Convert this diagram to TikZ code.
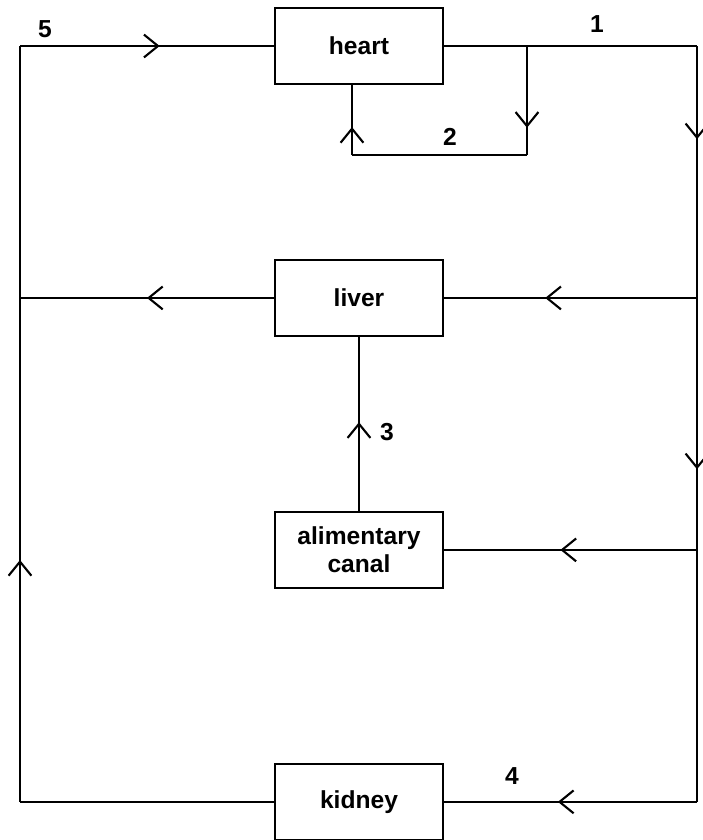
\documentclass[tikz,border=0pt]{standalone}
\usepackage{fontspec}
\setmainfont{Liberation Sans}
\usetikzlibrary{arrows.meta, decorations.markings}
\tikzstyle{organ} = [draw=black, line width=1.2pt, minimum width=3.36cm, minimum height=1.52cm, align=center, font=\fontsize{14}{16}\selectfont\bfseries]
\tikzstyle{num} = [font=\fontsize{14}{16}\selectfont\bfseries]
\tikzstyle{vessel} = [line width=1.2pt]
\tikzset{flow/.style={vessel, postaction={decorate}, decoration={markings, mark=at position #1 with {\arrow{Straight Barb[length=8pt, width=13pt]}}}}}

\begin{document}
\begin{tikzpicture}[x=0.02cm, y=-0.02cm, node distance=5.04cm]
		\useasboundingbox (0,0) rectangle (703,840);
		\node (heart) [organ] at (359,46) {heart};
		\node (liver) [organ, below of=heart] {liver};
		\node (canal) [organ, below of=liver] {alimentary\\canal};
		\node (kidney) [organ, below of=canal] {kidney};
		\coordinate (rx) at (697,0);
		\coordinate (lx) at (20,0);
		\coordinate (tr) at (heart.east -| rx);
		\coordinate (r1) at (liver.east -| rx);
		\coordinate (r2) at (canal.east -| rx);
		\coordinate (br) at (kidney.east -| rx);
		\coordinate (tl) at (heart.west -| lx);
		\coordinate (l1) at (liver.west -| lx);
		\coordinate (bl) at (kidney.west -| lx);
		\coordinate (b2) at (527,155);
		\coordinate (b1) at (heart.east -| b2);
		\coordinate (b3) at (352,155);
		\coordinate (b4) at (b3 |- heart.south);
		% right side
		\draw [vessel] (heart.east) -- (tr);
		\draw [flow=0.37] (tr) -- (r1);
		\draw [flow=0.68] (r1) -- (r2);
		\draw [vessel] (r2) -- (br);
		\draw [flow=0.6] (r1) -- (liver.east);
		\draw [flow=0.54] (r2) -- (canal.east);
		\draw [flow=0.55] (br) -- (kidney.east);
		% loop back to the heart
		\draw [flow=0.75] (b1) -- (b2);
		\draw [vessel] (b2) -- (b3);
		\draw [flow=0.4] (b3) -- (b4);
		\draw [flow=0.51] (canal.north) -- (liver.south);
		% left side
		\draw [flow=0.5] (liver.west) -- (l1);
		\draw [vessel] (kidney.west) -- (bl);
		\draw [flow=0.32] (bl) -- (tl);
		\draw [flow=0.55] (tl) -- (heart.west);
		\node (n5) [num] at (45,29) {5};
		\node (n1) [num] at (597,24) {1};
		\node (n2) [num] at (450,137) {2};
		\node (n3) [num] at (387,432) {3};
		\node (n4) [num] at (512,776) {4};
\end{tikzpicture}
\end{document}
